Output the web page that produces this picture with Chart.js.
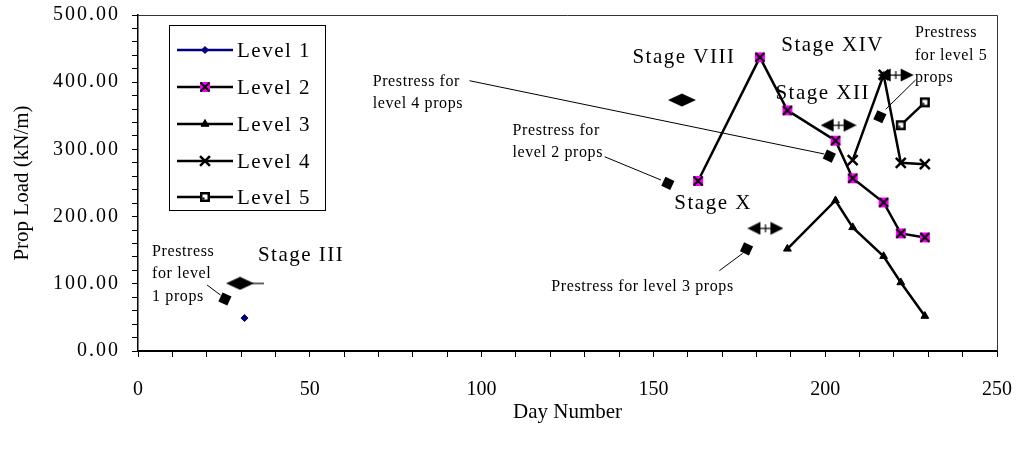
<!DOCTYPE html>
<html>
<head>
<meta charset="utf-8">
<script src="https://cdn.jsdelivr.net/npm/chart.js@4.4.1/dist/chart.umd.min.js"></script>
<style>
  html, body { margin: 0; padding: 0; background: #fff; }
  #wrap { width: 1023px; height: 457px; position: relative; }
</style>
</head>
<body>
<div id="wrap"><canvas id="c" width="1023" height="457"></canvas></div>
<script>
// Prop load (kN/m) per level against day number
const level1Days  = [31];
const level1Loads = [49];
const level2Days  = [163, 181, 189, 203, 208, 217, 222, 229];
const level2Loads = [253, 437, 358, 313, 257, 221, 175, 169];
const level3Days  = [189, 203, 208, 217, 222, 229];
const level3Loads = [152, 224, 184, 141, 102, 52];
const level4Days  = [208, 217, 222, 229];
const level4Loads = [284, 411, 280, 278];
const level5Days  = [222, 229];
const level5Loads = [336, 370];

const seriesNames = ['Level 1', 'Level 2', 'Level 3', 'Level 4', 'Level 5'];

// Prestress events (day, load) and construction stage markers
const prestressDays  = [25.3, 154.2, 177.1, 201.2, 215.9];
const prestressLoads = [77.4, 249.5, 152, 290, 348.6];
const stageNames     = ['Stage III', 'Stage VIII', 'Stage X', 'Stage XII', 'Stage XIV'];
const stageDays      = [29.7, 158.3, 182.6, 203.9, 220.5];
const stageLoads     = [100.7, 373.5, 182.5, 336, 410.7];

// Axis ticks
const yTickLabels = ['0.00', '100.00', '200.00', '300.00', '400.00', '500.00'];
const xTickLabels = ['0', '50', '100', '150', '200', '250'];

// Annotation texts: anchor (day, load) of the first line, left aligned
const stageTextDays  = [34.9, 143.9, 156.1, 185.5, 187.2];
const stageTextLoads = [141.4, 437.5, 220.2, 383.9, 453.9];
const prestressText = [
  ['Prestress', 'for level', '1 props'],
  ['Prestress for', 'level 2 props'],
  ['Prestress for level 3 props'],
  ['Prestress for', 'level 4 props'],
  ['Prestress', 'for level 5', 'props']
];
const prestressTextDays  = [4.1, 109, 120.3, 68.3, 226.1];
const prestressTextLoads = [147.8, 327.8, 95.2, 400.7, 473.2];
// Leader lines from note text to prestress marker: [day0, load0, day1, load1]
const leaderLines = [
  [20.1, 98.2, 24.0, 83.3],
  [135.8, 289.1, 152.2, 254.5],
  [169.2, 119.5, 176.0, 145.4],
  [96.5, 402.2, 199.7, 293.2],
  [217.6, 359.7, 226.3, 403.3]
];

const SERIF = '"Liberation Serif", "Times New Roman", serif';

// ---- custom marker images ----
function makeCanvas(w, h, fn) {
  const c = document.createElement('canvas');
  c.width = w; c.height = h;
  fn(c.getContext('2d'), w, h);
  return c;
}
const level2Marker = makeCanvas(12, 12, (g) => {
  g.fillStyle = '#FF00FF';
  g.fillRect(1, 1, 10, 10);
  g.strokeStyle = '#000';
  g.lineWidth = 2.2;
  g.beginPath();
  g.moveTo(1.5, 1.5); g.lineTo(10.5, 10.5);
  g.moveTo(10.5, 1.5); g.lineTo(1.5, 10.5);
  g.stroke();
});
const level5Marker = makeCanvas(12, 12, (g) => {
  g.fillStyle = '#000';
  g.fillRect(1, 1, 10, 10);
  g.fillStyle = '#fff';
  g.fillRect(3.5, 3.5, 5, 5);
  g.fillStyle = '#000';
  g.fillRect(3.5, 6.5, 2, 2);
});
function flatDiamond(tail) {
  const pad = tail ? 10 : 0;
  const w = 28 + 2 * pad, h = 14;
  return makeCanvas(w, h, (g) => {
    g.fillStyle = '#000';
    g.beginPath();
    g.moveTo(pad, 7); g.lineTo(pad + 14, 0.5); g.lineTo(pad + 28, 7); g.lineTo(pad + 14, 13.5);
    g.closePath();
    g.fill();
    if (tail) {
      g.fillRect(pad + 26, 6.5, w - pad - 26, 1.2);
    }
  });
}
const doubleArrow = makeCanvas(36, 14, (g) => {
  g.fillStyle = '#000';
  g.beginPath();
  g.moveTo(0, 7); g.lineTo(13, 0.5); g.lineTo(13, 13.5); g.closePath();
  g.moveTo(36, 7); g.lineTo(23, 0.5); g.lineTo(23, 13.5); g.closePath();
  g.fill();
  g.fillRect(13, 6.5, 10, 1.2);
  g.fillRect(17.5, 3, 1.2, 8);
});
const stageStyles = [flatDiamond(true), flatDiamond(false), doubleArrow, doubleArrow, doubleArrow];

const pts = (xs, ys) => xs.map((x, i) => ({ x: x, y: ys[i] }));

const seriesStyles = [
  { color: '#000080', pointStyle: 'rectRot', radius: 3.5, bg: '#000080', bw: 1 },
  { color: '#000000', pointStyle: level2Marker, radius: 6, bg: '#FF00FF', bw: 1 },
  { color: '#000000', pointStyle: 'triangle', radius: 4.5, bg: '#000', bw: 1 },
  { color: '#000000', pointStyle: 'crossRot', radius: 7, bg: '#000', bw: 2.5 },
  { color: '#000000', pointStyle: level5Marker, radius: 6, bg: '#fff', bw: 1 }
];
const seriesData = [
  pts(level1Days, level1Loads),
  pts(level2Days, level2Loads),
  pts(level3Days, level3Loads),
  pts(level4Days, level4Loads),
  pts(level5Days, level5Loads)
];

const datasets = seriesNames.map((name, i) => ({
  label: name,
  data: seriesData[i],
  showLine: true,
  borderColor: seriesStyles[i].color,
  borderWidth: 2.5,
  pointStyle: seriesStyles[i].pointStyle,
  pointRadius: seriesStyles[i].radius,
  pointBackgroundColor: seriesStyles[i].bg,
  pointBorderColor: seriesStyles[i].color,
  pointBorderWidth: seriesStyles[i].bw,
  clip: false
}));

datasets.push({
  label: 'prestress',
  data: pts(prestressDays, prestressLoads),
  showLine: false,
  pointStyle: 'rect',
  rotation: 25,
  pointRadius: 7,
  pointBackgroundColor: '#000',
  pointBorderColor: '#000',
  pointBorderWidth: 0
});
datasets.push({
  label: 'stages',
  data: pts(stageDays, stageLoads),
  showLine: false,
  pointStyle: stageStyles,
  pointRadius: 10
});
leaderLines.forEach((l) => {
  datasets.push({
    label: 'leader',
    data: [{ x: l[0], y: l[1] }, { x: l[2], y: l[3] }],
    showLine: true,
    borderColor: '#000',
    borderWidth: 1,
    pointRadius: 0
  });
});

// Text notes for stages and prestress events
const notesPlugin = {
  id: 'notes',
  afterDatasetsDraw(chart) {
    const { ctx, scales: { x, y } } = chart;
    ctx.save();
    ctx.fillStyle = '#000';
    ctx.textAlign = 'left';
    ctx.textBaseline = 'middle';
    ctx.font = '21px ' + SERIF;
    ctx.letterSpacing = '1.5px';
    stageNames.forEach((t, i) => {
      ctx.fillText(t, x.getPixelForValue(stageTextDays[i]), y.getPixelForValue(stageTextLoads[i]));
    });
    ctx.font = '16px ' + SERIF;
    ctx.letterSpacing = '0.6px';
    prestressText.forEach((lines, i) => {
      const px = x.getPixelForValue(prestressTextDays[i]);
      const py = y.getPixelForValue(prestressTextLoads[i]);
      lines.forEach((ln, k) => ctx.fillText(ln, px, py + k * 22.5));
    });
    ctx.restore();
  }
};

// Frame around the plot and the boxed legend
const framePlugin = {
  id: 'frame',
  afterDraw(chart) {
    const { ctx, chartArea: a } = chart;
    ctx.save();
    ctx.strokeStyle = '#333';
    ctx.lineWidth = 1;
    ctx.beginPath();
    ctx.moveTo(a.left, a.top + 0.5);
    ctx.lineTo(a.right + 0.5, a.top + 0.5);
    ctx.lineTo(a.right + 0.5, a.bottom);
    ctx.stroke();

    // legend box
    const bx = 169.5, by = 25.5, bw = 156, bh = 185;
    ctx.fillStyle = '#fff';
    ctx.fillRect(bx, by, bw, bh);
    ctx.strokeStyle = '#000';
    ctx.strokeRect(bx, by, bw, bh);
    const rowY = [50, 87, 124, 161, 197];
    ctx.font = '21px ' + SERIF;
    ctx.letterSpacing = '1.5px';
    ctx.textBaseline = 'middle';
    ctx.textAlign = 'left';
    seriesNames.forEach((name, i) => {
      const st = seriesStyles[i];
      const yy = rowY[i];
      ctx.strokeStyle = st.color;
      ctx.lineWidth = 2.5;
      ctx.beginPath();
      ctx.moveTo(177, yy); ctx.lineTo(233, yy);
      ctx.stroke();
      ctx.fillStyle = st.bg;
      ctx.strokeStyle = st.color;
      ctx.lineWidth = st.bw;
      Chart.helpers.drawPoint(ctx, {
        pointStyle: st.pointStyle, radius: st.radius, rotation: 0, borderWidth: st.bw
      }, 205, yy);
      ctx.fillStyle = '#000';
      ctx.fillText(name, 237, yy + 1);
    });
    ctx.restore();
  }
};

// Y tick labels are drawn with a little extra letter spacing
const spacedTicksPlugin = {
  id: 'spacedTicks',
  beforeDraw(chart) {
    const s = chart.scales.y;
    if (s._spacedWrapped) return;
    const orig = s.drawLabels;
    s.drawLabels = function (area) {
      const c = this.ctx;
      c.save();
      c.letterSpacing = '2px';
      orig.call(this, area);
      c.restore();
    };
    s._spacedWrapped = true;
  }
};

new Chart(document.getElementById('c'), {
  type: 'scatter',
  data: { datasets },
  options: {
    responsive: false,
    animation: false,
    devicePixelRatio: 1,
    events: [],
    layout: { padding: { top: 15, right: 26, left: 0, bottom: 0 } },
    plugins: { legend: { display: false }, tooltip: { enabled: false } },
    scales: {
      x: {
        type: 'linear',
        min: 0, max: 250,
        afterFit: (s) => { s.height = 106; s.paddingLeft = 0; s.paddingRight = 0; },
        grid: { drawOnChartArea: false, drawTicks: true, tickLength: 6, color: '#000', lineWidth: 1 },
        border: { color: '#000', width: 2 },
        ticks: {
          stepSize: 10,
          autoSkip: false,
          maxRotation: 0,
          padding: 21,
          color: '#000',
          font: { family: SERIF, size: 20 },
          callback: (v) => (v % 50 === 0 ? xTickLabels[v / 50] : '')
        },
        title: {
          display: true,
          text: 'Day Number',
          color: '#000',
          font: { family: SERIF, size: 21 },
          padding: { top: 0, bottom: 32 }
        }
      },
      y: {
        type: 'linear',
        min: 0, max: 500,
        afterFit: (s) => { s.width = 138; s.paddingTop = 0; s.paddingBottom = 0; },
        grid: { drawOnChartArea: false, drawTicks: true, tickLength: 6, color: '#000', lineWidth: 1 },
        border: { color: '#000', width: 1.5 },
        ticks: {
          stepSize: 20,
          autoSkip: false,
          padding: 12,
          color: '#000',
          font: { family: SERIF, size: 20 },
          callback: (v) => (v % 100 === 0 ? yTickLabels[v / 100] : '')
        },
        title: {
          display: true,
          text: 'Prop Load (kN/m)',
          color: '#000',
          font: { family: SERIF, size: 21 },
          padding: { top: 10, bottom: 0 }
        }
      }
    }
  },
  plugins: [notesPlugin, framePlugin, spacedTicksPlugin]
});
</script>
</body>
</html>
